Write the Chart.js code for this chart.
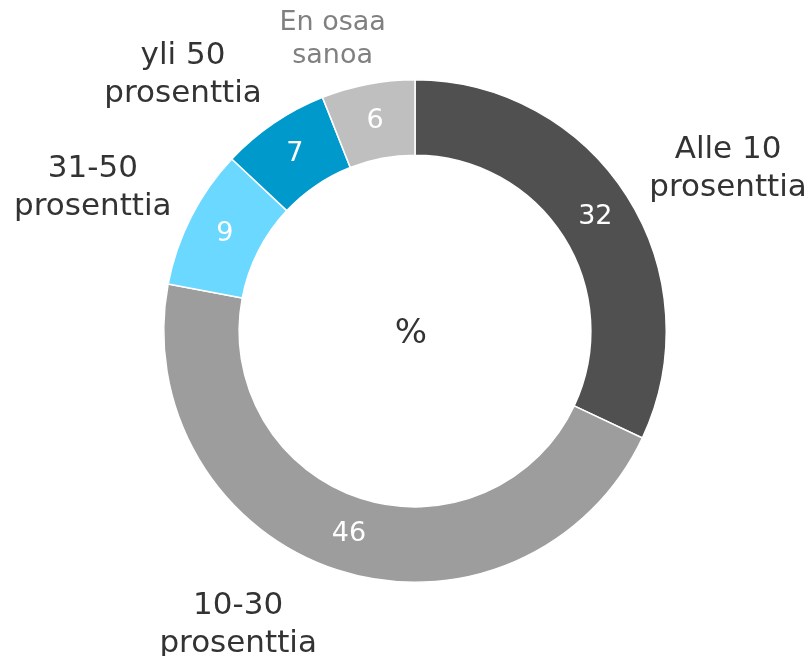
<!DOCTYPE html>
<html>
<head>
<meta charset="utf-8">
<script src="https://cdn.jsdelivr.net/npm/chart.js@4/dist/chart.umd.min.js"></script>
<style>
  html, body { margin: 0; padding: 0; background: #fff; }
  #wrap { width: 812px; height: 656px; }
</style>
</head>
<body>
<div id="wrap"><canvas id="donut" width="812" height="656"></canvas></div>
<script>
// data
const categories = [
  ['Alle 10', 'prosenttia'],
  ['10-30', 'prosenttia'],
  ['31-50', 'prosenttia'],
  ['yli 50', 'prosenttia'],
  ['En osaa', 'sanoa']
];
const shares = [32, 46, 9, 7, 6];
const sliceColors = ['#505050', '#9d9d9d', '#6ad8ff', '#0099cc', '#bfbfbf'];
const labelColors = ['#333333', '#333333', '#333333', '#333333', '#808080'];

const FONT = '"DejaVu Sans", Verdana, sans-serif';

// white numbers inside the ring + category names outside + "%" in the middle
const donutLabels = {
  id: 'donutLabels',
  afterDatasetsDraw(chart, args, opts) {
    const ctx = chart.ctx;
    const meta = chart.getDatasetMeta(0);
    ctx.save();
    ctx.textAlign = 'center';
    ctx.textBaseline = 'middle';

    meta.data.forEach((arc, i) => {
      const p = arc.getProps(['x', 'y', 'startAngle', 'endAngle', 'innerRadius', 'outerRadius'], true);
      const mid = (p.startAngle + p.endAngle) / 2;
      const rMid = (p.innerRadius + p.outerRadius) / 2;

      // value
      ctx.font = '27px ' + FONT;
      ctx.fillStyle = '#ffffff';
      ctx.fillText(shares[i], p.x + Math.cos(mid) * rMid, p.y + Math.sin(mid) * rMid);

      // category name
      const lines = categories[i];
      const size = i === 4 ? 27 : 31;
      const lh = i === 4 ? 33 : 38;
      ctx.font = size + 'px ' + FONT;
      const halfW = Math.max(...lines.map(l => ctx.measureText(l).width)) / 2;
      const halfH = lines.length * lh / 2;
      const a = mid + (opts.nudge[i] || 0) * Math.PI / 180;
      const dx = Math.cos(a), dy = Math.sin(a);
      const reach = Math.abs(halfW * dx) + Math.abs(halfH * dy);
      const r = p.outerRadius + opts.gap[i] + reach;
      const cx = p.x + dx * r, cy = p.y + dy * r;
      ctx.fillStyle = labelColors[i];
      lines.forEach((l, k) => {
        ctx.fillText(l, cx, cy - halfH + lh * (k + 0.5));
      });
    });

    // center mark
    const c = meta.data[0];
    ctx.font = '34px ' + FONT;
    ctx.fillStyle = '#333333';
    ctx.fillText('%', c.x - 4, c.y + 3);
    ctx.restore();
  }
};

new Chart(document.getElementById('donut').getContext('2d'), {
  type: 'doughnut',
  data: {
    labels: categories.map(c => c.join(' ')),
    datasets: [{
      data: shares,
      backgroundColor: sliceColors,
      borderColor: '#ffffff',
      borderWidth: 1.5
    }]
  },
  options: {
    responsive: false,
    animation: false,
    cutout: '70%',
    layout: { padding: { top: 79, bottom: 73, left: 163, right: 145 } },
    plugins: {
      legend: { display: false },
      tooltip: { enabled: false },
      donutLabels: { gap: [14, 19, 14, 13, 5], nudge: [5, 13, -3, -8, -5] }
    }
  },
  plugins: [donutLabels]
});
</script>
</body>
</html>
